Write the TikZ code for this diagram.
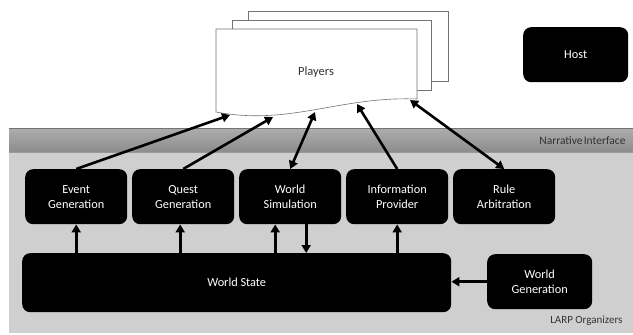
\documentclass[tikz,border=0pt]{standalone}
\usepackage{fontspec}
\setmainfont{Carlito}
\usetikzlibrary{calc,arrows.meta}
\begin{document}
\begin{tikzpicture}[x=1pt,y=1pt]
    \tikzstyle{arrow} = [->,>={Triangle[length=8pt,width=9pt]}, line width=2.6pt]
    \tikzstyle{darrow} = [<->,>={Triangle[length=8pt,width=9pt]}, line width=2.6pt]
    \tikzstyle{rec} = [rectangle, rounded corners=8pt, fill=black,
        text=white, align=center, minimum height=55pt, minimum width=102pt,
        font=\fontsize{12.3}{15}\selectfont]
    \tikzstyle{sheet} = [draw=black!55, fill=white, line width=0.6pt]

    \useasboundingbox (0,0) rectangle (633,-335);

    \fill[black!19] (9,-152) rectangle (633,-333);
    \shade[top color=black!32, bottom color=black!45] (9,-128) rectangle
        (633,-152);
    \draw[black!55, line width=0.7pt] (9,-128) -- (633,-128);
    \draw[black!40, line width=0.5pt] (9,-152) -- (633,-152);

    \node(narrative) [text=black!80, font=\fontsize{11.5}{13}\selectfont]
        at (629,-141) [anchor=east] {Narrative\hspace{0.1em}Interface};
    \node(organizers) [text=black!80, font=\fontsize{11}{13}\selectfont]
        at (626,-321) [anchor=east] {LARP Organizers};

    \draw[sheet] (248,-11) rectangle (448,-81);
    \draw[sheet] (232,-20) rectangle (431,-90);
    \draw[sheet] (216,-29) -- (417,-29) -- (417,-99)
        .. controls (340,-96) and (290,-126) .. (216,-112) -- cycle;
    \node(players) [text=black!80, font=\fontsize{12.5}{14}\selectfont]
        at (316,-72) {Players};

    \coordinate (p1) at (230,-115);
    \coordinate (p2) at (273,-117);
    \coordinate (p3) at (315,-112);
    \coordinate (p4) at (357,-104);
    \coordinate (p5) at (410,-100);

    \node(host) [rec, minimum width=105pt]
        at (523,-27) [anchor=north west] {Host};

    \node(event) [rec] at (25,-169) [anchor=north west]
        {Event\\ Generation};
    \node(quest) [rec, right of=event, node distance=107pt]
        {Quest\\ Generation};
    \node(worldsim) [rec, right of=quest, node distance=107pt]
        {World\\ Simulation};
    \node(info) [rec, right of=worldsim, node distance=107pt]
        {Information\\ Provider};
    \node(rule) [rec, right of=info, node distance=107pt]
        {Rule\\ Arbitration};

    \node(worldstate) [rec, minimum width=429pt, minimum height=59pt]
        at (22,-253) [anchor=north west] {World State};
    \node(worldgen) [rec, minimum width=105pt]
        at (487,-254) [anchor=north west] {World\\ Generation};

    \draw[arrow] (event.north) -- (p1);
    \draw[arrow] (quest.north) -- (p2);
    \draw[darrow] (worldsim.north) -- (p3);
    \draw[arrow] (info.north) -- (p4);
    \draw[darrow] (rule.north) -- (p5);

    \draw[arrow] (event.south |- worldstate.north) -- (event.south);
    \draw[arrow] ($(quest.south |- worldstate.north)+(-3,0)$)
        -- ($(quest.south)+(-3,0)$);
    \draw[arrow] ($(worldsim.south |- worldstate.north)+(-15,0)$)
        -- ($(worldsim.south)+(-15,0)$);
    \draw[arrow] ($(worldsim.south)+(16,0)$)
        -- ($(worldsim.south |- worldstate.north)+(16,0)$);
    \draw[arrow] (info.south |- worldstate.north) -- (info.south);
    \draw[arrow] (worldgen.west) -- (worldgen.west -| worldstate.east);
\end{tikzpicture}
\end{document}
